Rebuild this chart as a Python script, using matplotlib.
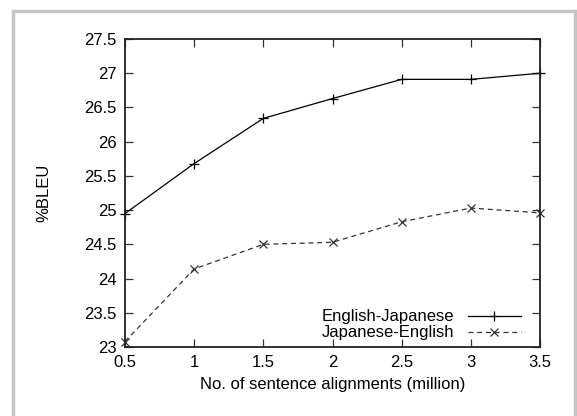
import matplotlib
matplotlib.use("Agg")
import matplotlib.pyplot as plt
from matplotlib.patches import Rectangle

plt.rcParams['font.family'] = ['Liberation Sans', 'DejaVu Sans']

# data
sizes = [0.5, 1, 1.5, 2, 2.5, 3, 3.5]
en_ja = [24.95, 25.68, 26.34, 26.63, 26.91, 26.91, 27.0]
ja_en = [23.08, 24.14, 24.50, 24.53, 24.83, 25.03, 24.96]
xticks = [0.5, 1, 1.5, 2, 2.5, 3, 3.5]
yticks = [23, 23.5, 24, 24.5, 25, 25.5, 26, 26.5, 27, 27.5]

fig = plt.figure(figsize=(5.77, 4.16), dpi=100)
ax = fig.add_axes([125/577, 1-347/416, 415/577, 308/416])

# gray frame round the figure (bottom edge runs off the image)
fig.patches.append(Rectangle((13/577, -0.05), 575/577 - 13/577, 1.05 - 11/416,
                             transform=fig.transFigure, fill=False,
                             edgecolor='#c4c4c4', linewidth=2.5))

ax.plot(sizes, en_ja, color='black', linewidth=0.9, marker='+', markersize=7,
        markeredgewidth=0.9, label='English-Japanese', clip_on=False)
ax.plot(sizes, ja_en, color='#333333', linewidth=0.9, linestyle=(0, (4, 3)),
        marker='x', markersize=5.5, markeredgewidth=0.9, label='Japanese-English',
        clip_on=False)

ax.set_xlim(0.5, 3.5)
ax.set_ylim(23, 27.5)
ax.set_xticks(xticks)
ax.set_xticklabels(['0.5', '1', '1.5', '2', '2.5', '3', '3.5'])
ax.set_yticks(yticks)
ax.set_yticklabels(['23', '23.5', '24', '24.5', '25', '25.5', '26', '26.5', '27', '27.5'])
ax.tick_params(direction='in', length=6, width=0.9, top=True, right=True,
               labelsize=12, pad=6, color='#333333')
for s in ax.spines.values():
    s.set_linewidth(1.3)
    s.set_color('#222222')

ax.set_xlabel('No. of sentence alignments (million)', fontsize=12, labelpad=5)
ax.set_ylabel('%BLEU', fontsize=12, labelpad=24)

leg = ax.legend(loc='lower right', frameon=False, fontsize=12, markerfirst=False,
                handlelength=3.2, handletextpad=0.8, labelspacing=0.05,
                borderaxespad=0.0, bbox_to_anchor=(0.97, 0.0))

fig.savefig('out.png', dpi=100)
